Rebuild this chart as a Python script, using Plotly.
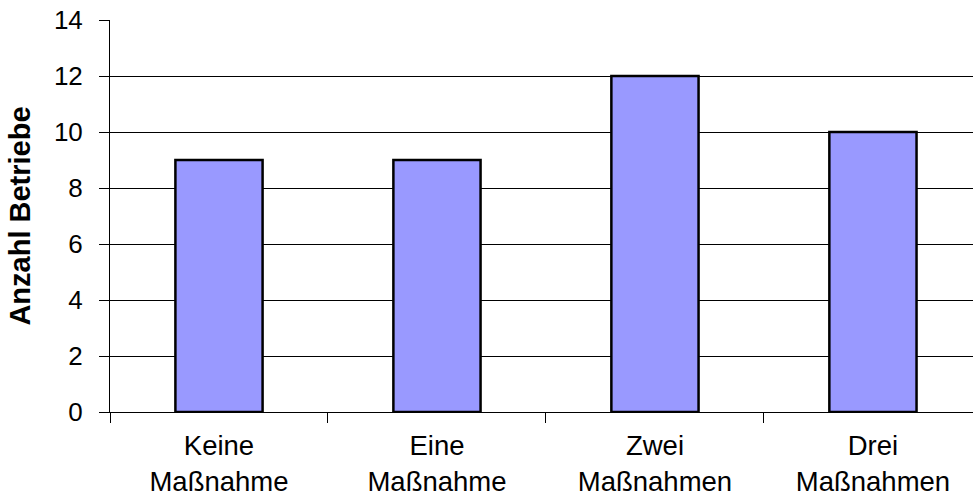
import plotly.graph_objects as go

categories = ["Keine<br>Maßnahme", "Eine<br>Maßnahme", "Zwei<br>Maßnahmen", "Drei<br>Maßnahmen"]
betriebe = [9, 9, 12, 10]
y_ticks = [0, 2, 4, 6, 8, 10, 12, 14]

fig = go.Figure(
    go.Bar(
        x=categories,
        y=betriebe,
        width=0.4,
        marker=dict(color="#9999FF", line=dict(color="black", width=2.5)),
    )
)

fig.update_layout(
    width=973,
    height=503,
    margin=dict(l=110, r=0, t=20, b=91),
    paper_bgcolor="white",
    plot_bgcolor="white",
    showlegend=False,
    font=dict(family="Liberation Sans, Arial, sans-serif", color="black"),
)

fig.update_xaxes(
    type="category",
    range=[-0.5, 3.459],
    automargin=False,
    showgrid=False,
    showline=True,
    linecolor="black",
    linewidth=1,
    ticks="outside",
    tickson="boundaries",
    ticklen=10,
    tickcolor="black",
    tickfont=dict(size=27.5),
    ticklabelstandoff=9,
)

fig.update_yaxes(
    range=[0, 14],
    tickvals=y_ticks,
    automargin=False,
    showgrid=True,
    gridcolor="black",
    gridwidth=1,
    showline=True,
    linecolor="black",
    linewidth=1,
    zeroline=False,
    ticks="outside",
    ticklen=10,
    tickcolor="black",
    tickfont=dict(size=26),
    ticklabelstandoff=11,
    title=dict(text="<b>Anzahl Betriebe</b>", font=dict(size=29), standoff=14),
)

fig.write_html("out.html")
